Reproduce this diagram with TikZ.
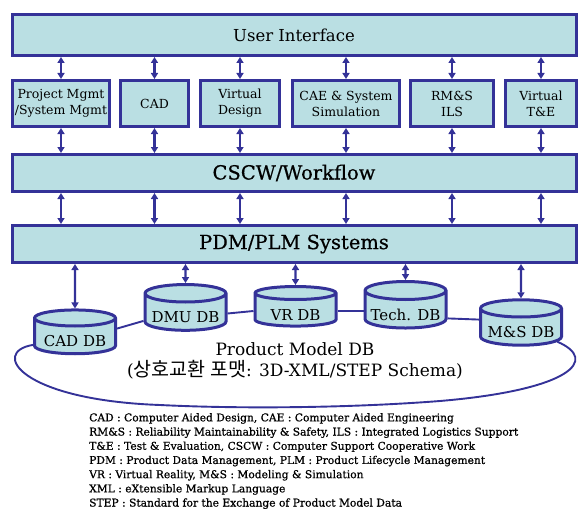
\documentclass[tikz,border=0pt]{standalone}
\usepackage{fontspec}
\setmainfont{DejaVu Serif}
\newfontfamily\krfont[Scale=1.15]{Noto Sans CJK KR}
\newfontfamily\notefont[FakeBold=0.8]{DejaVu Serif}
\newfontfamily\bandfont[FakeBold=0.6]{DejaVu Serif}
\usetikzlibrary{arrows.meta,shapes.geometric}
\definecolor{pdmblue}{RGB}{52,50,152}
\definecolor{pdmfill}{RGB}{186,223,227}

\begin{document}
\begin{tikzpicture}[x=1pt,y=-1pt,>={Triangle[length=6pt,width=7pt]}]
\tikzstyle{band}=[draw=pdmblue,fill=pdmfill,line width=3pt,minimum width=564pt,align=center]
\tikzstyle{tool}=[draw=pdmblue,fill=pdmfill,line width=3pt,minimum height=46pt,align=center,inner sep=1pt,font=\fontsize{12.5}{16}\selectfont]
\tikzstyle{db}=[cylinder,shape border rotate=90,aspect=0.25,draw=pdmblue,fill=pdmfill,line width=3pt,minimum width=81pt,minimum height=38pt,inner sep=1pt,text height=18pt,text depth=0pt,font=\fontsize{15}{18}\selectfont]
\tikzstyle{dlink}=[<->,line width=2.4pt,pdmblue]
\tikzstyle{wire}=[line width=1.9pt,pdmblue]
\useasboundingbox (0,0) rectangle (584,511);
\node[band,minimum height=41pt,font=\fontsize{16.5}{19}\selectfont] (ui) at (294,35) {User Interface};
\node[tool,minimum width=97pt] (pm) at (61,103.5) {Project Mgmt\\/System Mgmt};
\node[tool,minimum width=68pt] (cad) at (154.5,103.5) {CAD};
\node[tool,minimum width=79pt] (vd) at (240,103.5) {Virtual\\Design};
\node[tool,minimum width=107pt] (cae) at (346,103.5) {CAE \& System\\Simulation};
\node[tool,minimum width=83pt] (rms) at (452,103.5) {RM\&S\\ILS};
\node[tool,minimum width=71pt] (vte) at (541,103.5) {Virtual\\T\&E};
\node[band,minimum height=37pt,font=\bandfont\fontsize{19.5}{22}\selectfont] (cscw) at (294,173) {CSCW/Workflow};
\node[band,minimum height=37pt,font=\bandfont\fontsize{19.5}{22}\selectfont] (pdm) at (294,244) {PDM/PLM Systems};
\foreach \t in {pm,cad,vd,cae,rms,vte} {
  \draw[dlink] (ui.south -| \t) -- (\t);
  \draw[dlink] (\t) -- (cscw.north -| \t);
  \draw[dlink] (cscw.south -| \t) -- (pdm.north -| \t);
}
\node[db] (caddb) at (75,337.5) {CAD DB};
\node[db] (dmudb) at (185.5,313.5) {DMU DB};
\node[db,minimum height=39pt] (vrdb) at (295.5,311) {VR DB};
\node[db,minimum height=39pt] (techdb) at (405.5,311) {Tech. DB};
\node[db] (msdb) at (521,328.5) {M\&S DB};
\foreach \d in {caddb,dmudb,vrdb,techdb,msdb} \draw[dlink] (pdm.south -| \d) -- (\d);
\draw[wire] (caddb.12) -- (dmudb.190);
\draw[wire] (dmudb.east) -- (vrdb.west);
\draw[wire] (vrdb.east) -- (techdb.west);
\draw[wire] (techdb.350) -- (msdb.168);
\draw[wire] (caddb.190) .. controls (-10,352) and (20,400) .. (160,405) .. controls (240,409) and (350,408) .. (440,401) .. controls (570,390) and (600,360) .. (msdb.340);
\node[align=center,font=\fontsize{17}{21}\selectfont] (pmdb) at (295,361) {Product Model DB\\({\krfont 상호교환 포맷}: 3D-XML/STEP Schema)};
\node[anchor=north west,align=left,inner sep=0pt,font=\notefont\fontsize{10.7}{14.2}\selectfont] (legend) at (89,413) {CAD : Computer Aided Design, CAE : Computer Aided Engineering\\
RM\&S : Reliability Maintainability \& Safety, ILS : Integrated Logistics Support\\
T\&E : Test \& Evaluation, CSCW : Computer Support Cooperative Work\\
PDM : Product Data Management, PLM : Product Lifecycle Management\\
VR : Virtual Reality, M\&S : Modeling \& Simulation\\
XML : eXtensible Markup Language\\
STEP : Standard for the Exchange of Product Model Data};
\end{tikzpicture}
\end{document}
